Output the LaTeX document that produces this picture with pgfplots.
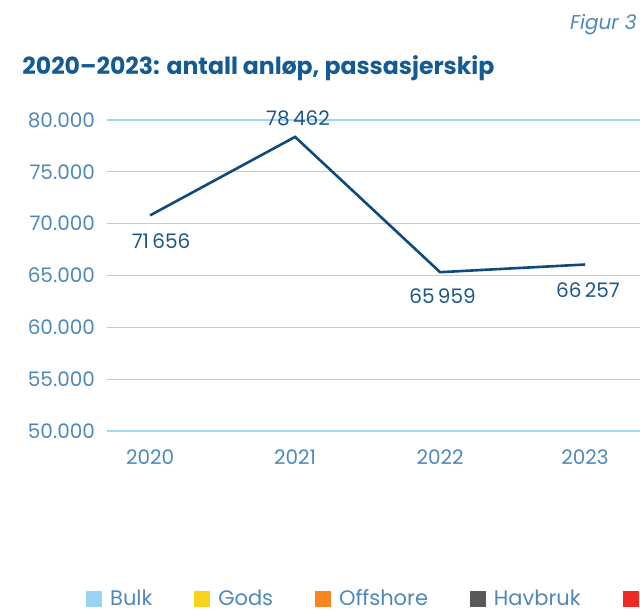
\documentclass[border=0pt]{standalone}
\usepackage{pgfplots}
\usepackage{pgfplotstable}
\pgfplotsset{compat=1.18}
\usepackage{fontspec}
\setmainfont{Poppins}

\definecolor{titleblue}{HTML}{155A91}
\definecolor{tickblue}{HTML}{4F88B8}
\definecolor{labelblue}{HTML}{1D5689}
\definecolor{lineblue}{HTML}{0D4A80}
\definecolor{gridblue}{HTML}{9DD8F4}
\definecolor{bulk}{HTML}{98D3F1}
\definecolor{gods}{HTML}{F7D21F}
\definecolor{offshore}{HTML}{F58620}
\definecolor{havbruk}{HTML}{58595B}
\definecolor{annet}{HTML}{EE2A24}

% line positions as drawn, labels as printed, label offsets in pt
\pgfplotstableread{
year value label dx dy
2020 70800 {71\,656} 5.5 -13
2021 78370 {78\,462} 1.5 9.5
2022 65320 {65\,959} 1.25 -12
2023 66060 {66\,257} 1.5 -13
}\passasjer

\begin{document}
\begin{tikzpicture}
% 1 px of the reference = 0.5pt, axis box lower left at px (107,431)
\useasboundingbox (-53.5pt,-89.5pt) rectangle (266.5pt,215.5pt);
\begin{axis}[
    at={(0,0)}, anchor=south west,
    scale only axis,
    width=266.5pt, height=155.5pt,
    xmin=2019.703, xmax=2023.379,
    ymin=50000, ymax=80000,
    xtick={2020,2021,2022,2023},
    ytick={50000,55000,...,80000},
    axis line style={draw=none},
    major tick length=0pt,
    ymajorgrids,
    major grid style={gridblue, line width=0.55pt},
    scaled y ticks=false,
    tick label style={font=\fontsize{10}{12}\selectfont, text=tickblue},
    xticklabel style={/pgf/number format/1000 sep={},
        /pgf/number format/assume math mode=true, yshift=-6pt},
    yticklabel style={/pgf/number format/1000 sep={.},
        /pgf/number format/assume math mode=true, xshift=-2.5pt},
    clip=false,
    legend style={at={(axis description cs:-0.0507,-0.54)}, anchor=west,
        draw=none, fill=none, legend columns=5,
        font=\fontsize{10.5}{12}\selectfont, text=tickblue,
        /tikz/every odd column/.append style={column sep=2pt},
        /tikz/every even column/.append style={column sep=19pt}},
    legend image code/.code={\fill[#1] (0pt,-3.7pt) rectangle (7.5pt,3.7pt);},
]
\addlegendimage{bulk}
\addlegendentry{Bulk}
\addlegendimage{gods}
\addlegendentry{Gods}
\addlegendimage{offshore}
\addlegendentry{Offshore}
\addlegendimage{havbruk}
\addlegendentry{Havbruk}
\addlegendimage{annet}
\addlegendentry{Annet}

\addplot[lineblue, line width=1.3pt, mark=none, forget plot]
    table[x=year, y=value] {\passasjer};
\addplot[draw=none, mark=none, forget plot,
    nodes near coords, point meta=explicit symbolic,
    visualization depends on={\thisrow{dx} \as \dx},
    visualization depends on={\thisrow{dy} \as \dy},
    every node near coord/.style={anchor=center,
        xshift={\dx*1pt}, yshift={\dy*1pt},
        font=\fontsize{10}{12}\selectfont, text=labelblue}]
    table[x=year, y=value, meta=label] {\passasjer};
\end{axis}
\node[anchor=base west, inner sep=0pt, text=titleblue,
    font=\fontsize{11.8}{13}\selectfont\bfseries] at (-42.5pt,178pt)
    {2020–2023: antall anløp, passasjerskip};
\node[anchor=base east, inner sep=0pt, text=tickblue,
    font=\fontsize{10}{12}\selectfont\itshape] at (265pt,200.5pt) {Figur 3};
\end{tikzpicture}
\end{document}
